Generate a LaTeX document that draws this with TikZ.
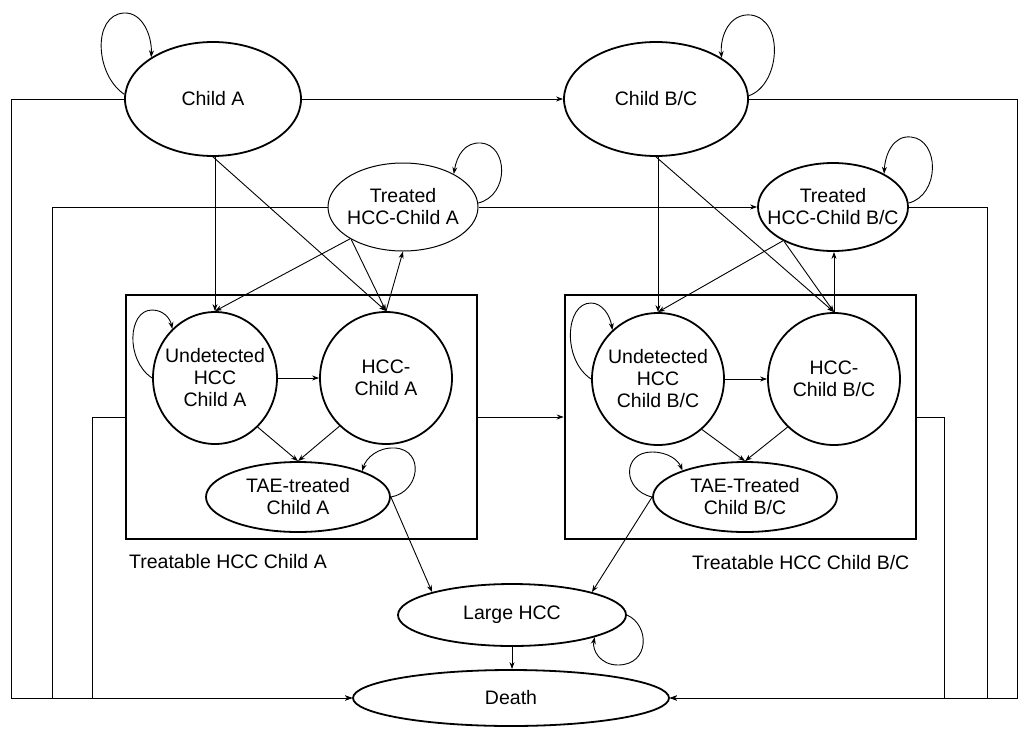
\documentclass[tikz,border=0pt]{standalone}
\usepackage{fontspec}
\setmainfont{Liberation Sans}
\usetikzlibrary{shapes.geometric,arrows.meta,calc}
\begin{document}
\begin{tikzpicture}[x=1pt,y=1pt,
  bubble/.style={ellipse, draw, line width=1.8pt, inner sep=0pt},
  thinbubble/.style={ellipse, draw, line width=1pt, inner sep=0pt},
  txt/.style={align=center, inner sep=0pt, font=\fontsize{19.5}{22}\selectfont},
  group/.style={draw, line width=2.6pt, inner sep=0pt},
  link/.style={line width=0.9pt},
  arr/.style={link, -{Stealth[length=7pt,width=5pt]}},
]
\useasboundingbox (0,0) rectangle (1019,-728);

% health states
\node[bubble, minimum width=176pt, minimum height=114pt, label={[txt]center:Child A}] (cA) at (213,-99) {};
\node[bubble, minimum width=184pt, minimum height=114pt, label={[txt]center:Child B/C}] (cBC) at (656,-99) {};
\node[thinbubble, minimum width=150pt, minimum height=88pt, label={[txt]center:{Treated\\HCC-Child A}}] (tA) at (403,-207) {};
\node[bubble, minimum width=150pt, minimum height=88pt, label={[txt]center:{Treated\\HCC-Child B/C}}] (tBC) at (833,-207) {};

% treatable HCC groups
\node[group, minimum width=351pt, minimum height=244pt] (boxA) at (301.5,-417) {};
\node[group, minimum width=351pt, minimum height=244pt] (boxBC) at (740.5,-417) {};
\node[txt, anchor=base west] (lblA) at (129,-568) {Treatable HCC Child A};
\node[txt, anchor=base west] (lblBC) at (692,-569) {Treatable HCC Child B/C};

\node[bubble, minimum width=124pt, minimum height=132pt, label={[txt]center:{Undetected\\HCC\\Child A}}] (uA) at (215,-378) {};
\node[bubble, minimum width=132pt, minimum height=132pt, label={[txt]center:{HCC-\\Child A}}] (hA) at (386,-378) {};
\node[bubble, minimum width=184pt, minimum height=70pt, label={[txt]center:{TAE-treated\\Child A}}] (eA) at (298,-497) {};

\node[bubble, minimum width=132pt, minimum height=132pt, label={[txt]center:{Undetected\\HCC\\Child B/C}}] (uBC) at (658,-379) {};
\node[bubble, minimum width=132pt, minimum height=132pt, label={[txt]center:{HCC-\\Child B/C}}] (hBC) at (834,-379) {};
\node[bubble, minimum width=184pt, minimum height=70pt, label={[txt]center:{TAE-Treated\\Child B/C}}] (eBC) at (745,-497) {};

\node[bubble, minimum width=228pt, minimum height=62pt, label={[txt]center:Large HCC}] (large) at (512,-615) {};
\node[bubble, minimum width=316pt, minimum height=56pt, label={[txt]center:Death}] (death) at (511,-698) {};

% corners of the routes down to Death
\coordinate (l1) at (11,-698);
\coordinate (l2) at (52,-698);
\coordinate (l3) at (92,-698);
\coordinate (r1) at (1017,-698);
\coordinate (r2) at (987,-698);
\coordinate (r3) at (944,-698);

% transitions to Death
\draw[arr] (cA.west) -| (l1) -- (death.west);
\draw[arr] (tA.west) -| (l2) -- (death.west);
\draw[arr] (boxA.west) -| (l3) -- (death.west);
\draw[arr] (cBC.east) -| (r1) -- (death.east);
\draw[arr] (tBC.east) -| (r2) -- (death.east);
\draw[arr] (boxBC.east) -| (r3) -- (death.east);
\draw[arr] (large.south) -- (large.south |- death.north);

% Child A to Child B/C progression
\draw[arr] (cA.east) -- (cBC.west);
\draw[arr] (tA.east) -- (tBC.west);
\draw[arr] (boxA.east) -- (boxBC.west);

% Child A block
\draw[arr] (uA.north |- cA.south) -- (uA.north);
\draw[arr] (cA.south) -- (hA.north);
\draw[arr] (tA.211) -- (uA.north);
\draw[arr] (tA.212) -- (hA.north);
\draw[arr] (hA.north) -- (tA.south);
\draw[arr] (uA.east) -- (hA.west);
\draw[arr] (uA.-49) -- (eA.north);
\draw[arr] (hA.226) -- (eA.north);
\draw[arr] (eA.east) -- (large.164);

% Child B/C block
\draw[arr] (uBC.north |- cBC.south) -- (uBC.north);
\draw[arr] (cBC.south) -- (hBC.north);
\draw[arr] (tBC.214) -- (uBC.north);
\draw[arr] (tBC.215) -- (hBC.north);
\draw[arr] (hBC.north) -- (hBC.north |- tBC.south);
\draw[arr] (uBC.east) -- (hBC.west);
\draw[arr] (uBC.-49) -- (eBC.north);
\draw[arr] (hBC.226) -- (eBC.north);
\draw[arr] (eBC.west) -- (large.16);

% staying in the same state
\draw[arr] (cA.177) .. controls (95,-75) and (92,-15) .. (124,-13)
  .. controls (142,-12) and (152,-35) .. (cA.146);
\draw[arr] (cBC.2) .. controls (780,-85) and (785,-20) .. (751,-15)
  .. controls (730,-13) and (720,-35) .. (cBC.32);
\draw[arr] (tA.3) .. controls (510,-195) and (508,-145) .. (481,-143)
  .. controls (465,-142) and (457,-155) .. (tA.33);
\draw[arr] (tBC.3) .. controls (940,-195) and (940,-140) .. (911,-137)
  .. controls (893,-135) and (885,-155) .. (tBC.33);
\draw[arr] (uA.180) .. controls (125,-360) and (128,-310) .. (152,-310)
  .. controls (163,-310) and (170,-318) .. (uA.131);
\draw[arr] (uBC.180) .. controls (562,-360) and (565,-303) .. (591,-303)
  .. controls (602,-303) and (610,-315) .. (uBC.133);
\draw[arr] (eA.east) .. controls (420,-492) and (425,-450) .. (395,-448)
  .. controls (378,-447) and (366,-458) .. (eA.22);
\draw[arr] (eBC.west) .. controls (622,-490) and (622,-452) .. (652,-452)
  .. controls (668,-452) and (678,-460) .. (eBC.157);
\draw[arr] (large.east) .. controls (650,-625) and (650,-665) .. (618,-665)
  .. controls (600,-665) and (592,-650) .. (large.-15);
\end{tikzpicture}
\end{document}
